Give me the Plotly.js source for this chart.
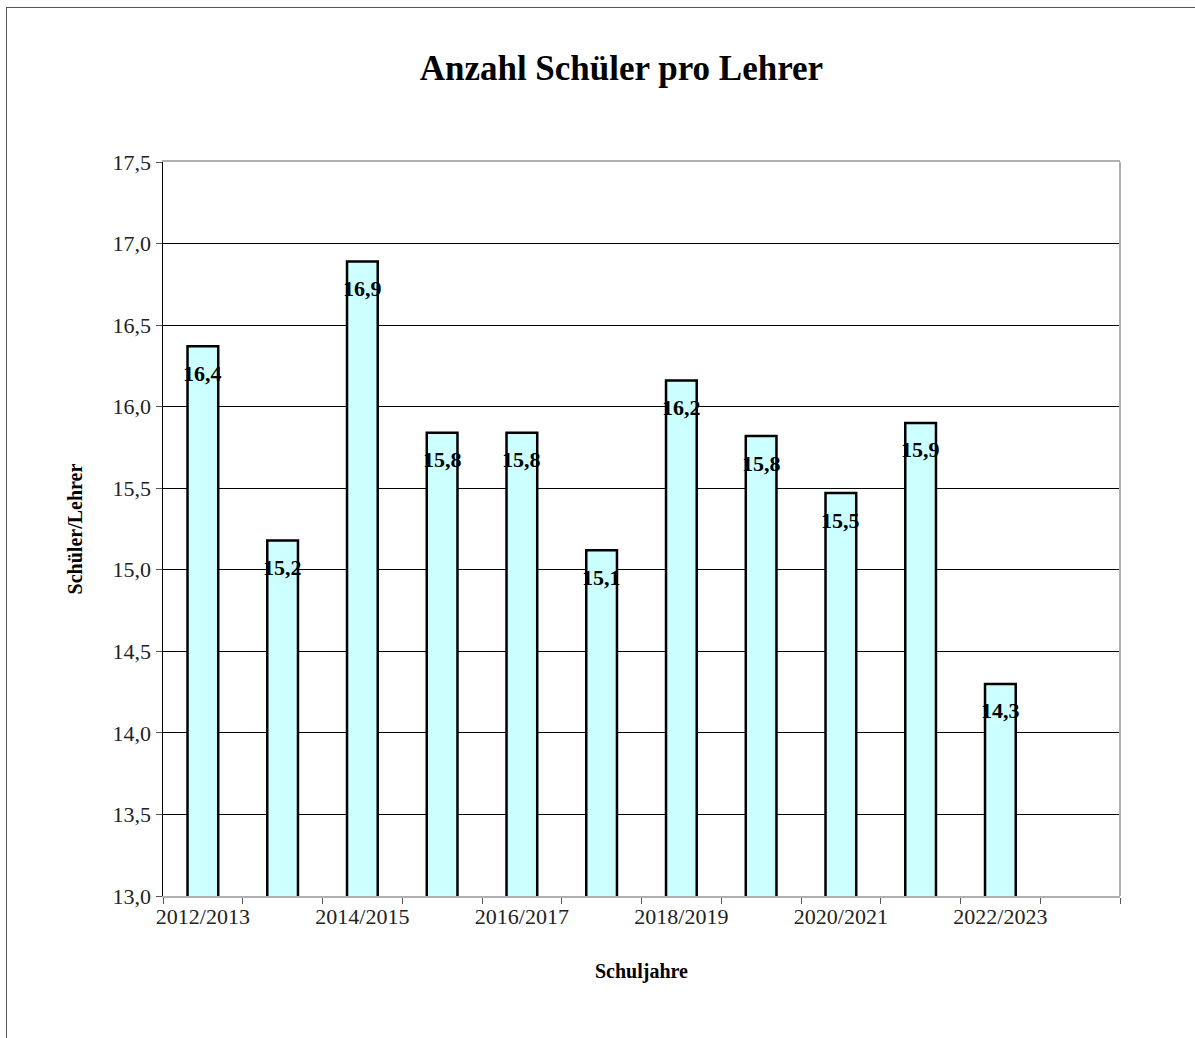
<!DOCTYPE html>
<html>
<head>
<meta charset="utf-8">
<script src="https://cdn.plot.ly/plotly-3.0.1.min.js"></script>
<style>
  html, body { margin: 0; padding: 0; background: #ffffff; }
  #frame { position: absolute; left: 6px; top: 7px; width: 1300px; height: 1100px;
           border-left: 1px solid #555; border-top: 1px solid #555; pointer-events: none; }
  #chart { position: absolute; left: 0; top: 0; width: 1195px; height: 1038px; }
</style>
</head>
<body>
<div id="chart"></div>
<div id="frame"></div>
<script>
// ---- data ----
const schoolYears = ["2012/2013","2013/2014","2014/2015","2015/2016","2016/2017","2017/2018",
                     "2018/2019","2019/2020","2020/2021","2021/2022","2022/2023","2023/2024"];
const studentsPerTeacher = [16.37, 15.18, 16.89, 15.84, 15.84, 15.12, 16.16, 15.82, 15.47, 15.90, 14.30, null];
const shownTickLabels = ["2012/2013","","2014/2015","","2016/2017","","2018/2019","","2020/2021","","2022/2023",""];

const serif = "Liberation Serif, Times New Roman, serif";

const bars = {
  type: "bar",
  x: schoolYears,
  y: studentsPerTeacher,
  width: 0.385,
  marker: { color: "#CCFFFF", line: { color: "#000000", width: 2.5 } },
  hoverinfo: "x+y",
  showlegend: false
};

const annotations = [];
schoolYears.forEach((yr, i) => {
  const v = studentsPerTeacher[i];
  if (v === null) return;
  annotations.push({
    x: yr, y: v, xref: "x", yref: "y",
    text: v.toFixed(1).replace(".", ","),
    showarrow: false, yanchor: "middle", xanchor: "center", yshift: -27,
    font: { family: serif, size: 22, color: "#000000", weight: "bold" }
  });
});

const layout = {
  width: 1195, height: 1038,
  paper_bgcolor: "rgba(0,0,0,0)",
  plot_bgcolor: "#ffffff",
  margin: { l: 163, r: 75, t: 162, b: 142, pad: 0 },
  separators: ",.",
  title: {
    text: "<b>Anzahl Schüler pro Lehrer</b>",
    font: { family: serif, size: 35, color: "#000000" },
    xref: "container", x: 0.52, xanchor: "center",
    yref: "container", y: 1 - 68/1038, yanchor: "middle"
  },
  xaxis: {
    type: "category",
    tickmode: "array",
    tickvals: schoolYears,
    ticktext: shownTickLabels,
    tickson: "boundaries",
    tickangle: 0,
    ticks: "outside", ticklen: 6, tickcolor: "#555555", tickwidth: 1,
    showline: true, linecolor: "#b0b0b0", linewidth: 2, mirror: true,
    showgrid: false,
    range: [-0.5, 11.5],
    tickfont: { family: serif, size: 22, color: "#222222" },
    title: { text: "<b>Schuljahre</b>", font: { family: serif, size: 20, color: "#000000" }, standoff: 36 }
  },
  yaxis: {
    range: [13, 17.5],
    dtick: 0.5,
    tick0: 13,
    tickformat: ".1f",
    ticks: "outside", ticklen: 6, tickcolor: "#555555", tickwidth: 1,
    showline: true, linecolor: "#000000", linewidth: 1.5,
    showgrid: true, gridcolor: "#000000", gridwidth: 1,
    zeroline: false,
    tickfont: { family: serif, size: 22, color: "#222222" },
    title: { text: "<b>Schüler/Lehrer</b>", font: { family: serif, size: 20, color: "#000000" }, standoff: 24 }
  },
  shapes: [
    { type: "line", xref: "paper", yref: "paper", x0: 1, x1: 1, y0: 0, y1: 1,
      line: { color: "#b0b0b0", width: 2 }, layer: "above" }
  ],
  annotations: annotations,
  bargap: 0.6
};

Plotly.newPlot("chart", [bars], layout, { displayModeBar: false, staticPlot: true });
</script>
</body>
</html>
